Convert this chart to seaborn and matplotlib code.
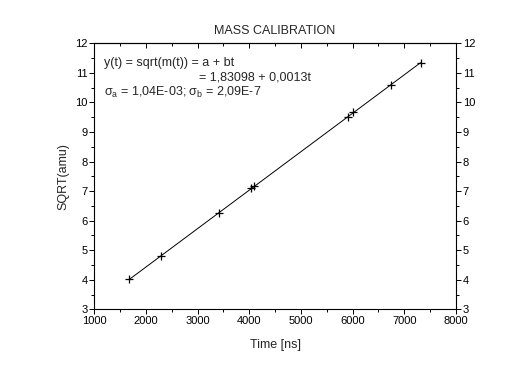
import numpy as np
import pandas as pd
import matplotlib
matplotlib.use("Agg")
import matplotlib.pyplot as plt
import seaborn as sns
from matplotlib.ticker import MultipleLocator

# measured calibration points
time_ns = [1674, 2288, 3411, 4031, 4089, 5915, 6012, 6736, 7317]
sqrt_amu = [4.01, 4.80, 6.25, 7.09, 7.17, 9.50, 9.68, 10.59, 11.32]

# fit coefficients printed on the chart
fit_a = 1.83098
fit_b = 0.0013

df = pd.DataFrame({"Time": time_ns, "SQRT": sqrt_amu})

sns.set_style("ticks")
plt.rcParams["font.family"] = ["Liberation Sans", "DejaVu Sans"]
plt.rcParams.update({
    "xtick.direction": "out", "ytick.direction": "out",
    "xtick.major.size": 3.5, "ytick.major.size": 3.5,
    "xtick.minor.size": 2.2, "ytick.minor.size": 2.2,
    "xtick.major.width": 0.7, "ytick.major.width": 0.7,
    "xtick.minor.width": 0.7, "ytick.minor.width": 0.7,
    "axes.linewidth": 0.8, "axes.edgecolor": "black",
    "xtick.color": "black", "ytick.color": "black",
})

fig = plt.figure(figsize=(5.3, 3.71), dpi=100)
ax = fig.add_axes([0.178, 0.1663, 0.682, 0.717])

# fit line across the data range
fit_x = np.array([min(time_ns), max(time_ns)])
ax.plot(fit_x, fit_a + fit_b * fit_x, color="black", linewidth=0.7, zorder=2)

sns.scatterplot(data=df, x="Time", y="SQRT", marker="+", color="black",
                s=40, linewidth=0.9, ax=ax, zorder=3)

ax.set_xlim(1000, 8000)
ax.set_ylim(3, 12)
ax.xaxis.set_major_locator(MultipleLocator(1000))
ax.xaxis.set_minor_locator(MultipleLocator(500))
ax.yaxis.set_major_locator(MultipleLocator(1))
ax.yaxis.set_minor_locator(MultipleLocator(0.5))
for side in ["top", "right"]:
    ax.spines[side].set_visible(True)
ax.tick_params(axis="both", which="both", labelsize=8, pad=1.5)
ax.tick_params(axis="y", which="both", right=True, labelright=True)

# top axis ticks point inward
top = ax.secondary_xaxis("top")
top.xaxis.set_major_locator(MultipleLocator(1000))
top.xaxis.set_minor_locator(MultipleLocator(500))
top.tick_params(axis="x", which="both", direction="in", labeltop=False)
top.spines["top"].set_linewidth(0.8)

ax.set_xlabel("Time [ns]", fontsize=9, labelpad=9)
ax.set_ylabel("SQRT(amu)", fontsize=9, labelpad=4)
ax.set_title("MASS CALIBRATION", fontsize=9, pad=7)

ax.text(0.027, 0.925, "y(t) = sqrt(m(t)) = a + bt", transform=ax.transAxes,
        fontsize=9, va="center", ha="left")
ax.text(0.29, 0.872, "= 1,83098 + 0,0013t", transform=ax.transAxes,
        fontsize=9, va="center", ha="left")
ax.text(0.027, 0.816, "σ$_\\mathregular{a}$ = 1,04E-03; σ$_\\mathregular{b}$ = 2,09E-7",
        transform=ax.transAxes, fontsize=9, va="center", ha="left")

fig.savefig("out.png", dpi=100)
